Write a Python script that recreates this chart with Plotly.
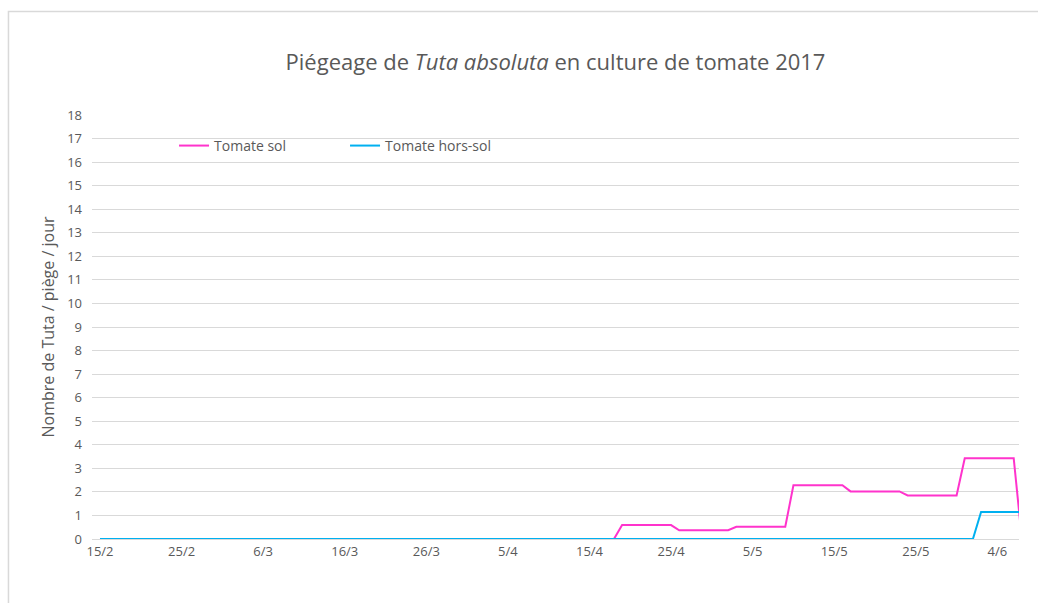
import plotly.graph_objects as go

# Category axis: one category per daily reading; labels shown every 10 categories
tick_labels = ["15/2", "25/2", "6/3", "16/3", "26/3", "5/4",
               "15/4", "25/4", "5/5", "15/5", "25/5", "4/6"]
tick_positions = [0, 10, 20, 30, 40, 50, 60, 70, 80, 90, 100, 110]

# Daily values (Nombre de Tuta / piège / jour)
tomate_sol = [
    0, 0, 0, 0, 0, 0, 0, 0, 0, 0, 0, 0, 0, 0, 0, 0,
    0, 0, 0, 0, 0, 0, 0, 0, 0, 0, 0, 0, 0, 0, 0, 0,
    0, 0, 0, 0, 0, 0, 0, 0, 0, 0, 0, 0, 0, 0, 0, 0,
    0, 0, 0, 0, 0, 0, 0, 0, 0, 0, 0, 0, 0, 0, 0, 0,
    0.59, 0.59, 0.59, 0.59, 0.59, 0.59, 0.59,
    0.37, 0.37, 0.37, 0.37, 0.37, 0.37, 0.37,
    0.52, 0.52, 0.52, 0.52, 0.52, 0.52, 0.52,
    2.28, 2.28, 2.28, 2.28, 2.28, 2.28, 2.28,
    2.02, 2.02, 2.02, 2.02, 2.02, 2.02, 2.02,
    1.85, 1.85, 1.85, 1.85, 1.85, 1.85, 1.85,
    3.43, 3.43, 3.43, 3.43, 3.43, 3.43, 3.43,
    0,
]
tomate_hors_sol = [
    0, 0, 0, 0, 0, 0, 0, 0, 0, 0, 0, 0, 0, 0, 0, 0, 0, 0,
    0, 0, 0, 0, 0, 0, 0, 0, 0, 0, 0, 0, 0, 0, 0, 0, 0, 0,
    0, 0, 0, 0, 0, 0, 0, 0, 0, 0, 0, 0, 0, 0, 0, 0, 0, 0,
    0, 0, 0, 0, 0, 0, 0, 0, 0, 0, 0, 0, 0, 0, 0, 0, 0, 0,
    0, 0, 0, 0, 0, 0, 0, 0, 0, 0, 0, 0, 0, 0, 0, 0, 0, 0,
    0, 0, 0, 0, 0, 0, 0, 0, 0, 0, 0, 0, 0, 0, 0, 0, 0, 0,
    1.15, 1.15, 1.15, 1.15, 1.15, 1.15,
]
y_ticks = list(range(0, 19))

x_sol = list(range(len(tomate_sol)))
x_hors = list(range(len(tomate_hors_sol)))

FONT = "Open Sans"
GRAY = "#595959"
GRID = "#d9d9d9"

fig = go.Figure()
fig.add_trace(go.Scatter(x=x_sol, y=tomate_sol, mode="lines", name="Tomate sol",
                         line=dict(color="#FF33CC", width=2)))
fig.add_trace(go.Scatter(x=x_hors, y=tomate_hors_sol, mode="lines", name="Tomate hors-sol",
                         line=dict(color="#00B0F0", width=2)))

W, H = 1038, 603
L, R, T, B = 92, 19.4, 115, 63.5
pw = W - L - R
ph = H - T - B

def px_x(p):
    return (p - L) / pw

def px_y(p):
    return (H - B - p) / ph

fig.update_layout(
    width=W, height=H,
    margin=dict(l=L, r=R, t=T, b=B, autoexpand=False),
    paper_bgcolor="white", plot_bgcolor="white",
    font=dict(family=FONT, color=GRAY, size=13),
    title=dict(
        text="Piégeage de <i>Tuta absoluta</i> en culture de tomate 2017",
        x=0.5, xref="paper", xanchor="center",
        y=1 - 62 / H, yref="container", yanchor="middle",
        font=dict(family=FONT, size=22, color=GRAY),
    ),
    showlegend=True,
    legend=dict(
        orientation="h",
        x=px_x(174), xanchor="left",
        y=px_y(146), yanchor="middle",
        bgcolor="rgba(0,0,0,0)",
        font=dict(family=FONT, size=14, color=GRAY),
        entrywidth=126, entrywidthmode="pixels",
    ),
    xaxis=dict(
        range=[-0.98, 112.65],
        tickmode="array", tickvals=tick_positions, ticktext=tick_labels,
        showgrid=False, zeroline=False,
        showline=True, linecolor=GRID, linewidth=1,
        ticks="", ticklen=0,
        tickfont=dict(family=FONT, size=13, color=GRAY),
    ),
    yaxis=dict(
        range=[0, 18],
        tickmode="array", tickvals=y_ticks,
        showgrid=True, gridcolor=GRID, gridwidth=1,
        zeroline=False, showline=False,
        ticks="", ticklabelstandoff=9,
        tickfont=dict(family=FONT, size=13, color=GRAY),
        title=dict(text="Nombre de Tuta / piège / jour",
                   font=dict(family=FONT, size=16, color=GRAY), standoff=8),
    ),
    shapes=[
        # white legend box hiding gridlines behind the legend
        dict(type="rect", xref="paper", yref="paper", layer="between",
             x0=px_x(118), x1=px_x(549), y0=px_y(175), y1=px_y(125),
             fillcolor="white", line=dict(width=0)),
        # chart frame
        dict(type="rect", xref="paper", yref="paper", layer="below",
             x0=px_x(8.5), x1=px_x(1045), y0=px_y(615), y1=px_y(11.5),
             fillcolor="rgba(0,0,0,0)", line=dict(color=GRID, width=1.5)),
    ],
)

fig.write_html("out.html", config={"displayModeBar": False},
               post_script="document.body.style.margin='0px';document.body.style.overflow='hidden';")
